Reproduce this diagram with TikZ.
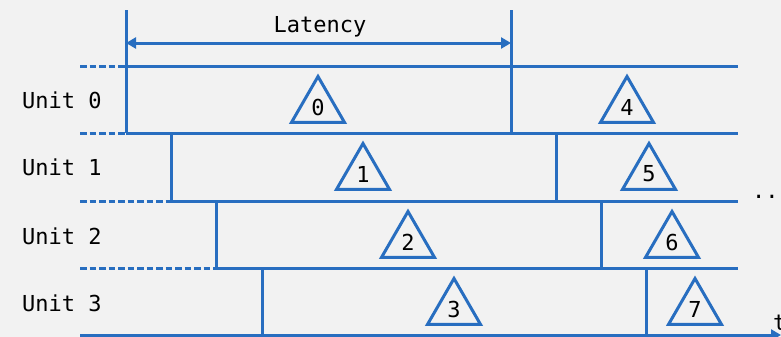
\documentclass[tikz,border=0pt]{standalone}
\usepackage{fontspec}
\setmonofont{DejaVu Sans Mono}
\usetikzlibrary{arrows.meta,shapes.geometric}
\definecolor{lineblue}{RGB}{40,110,192}
\definecolor{bggray}{RGB}{242,242,242}

\begin{document}
\begin{tikzpicture}[x=0.5pt,y=-0.5pt,
	every node/.style={font=\ttfamily\fontsize{11}{13}\selectfont},
	grid/.style={draw=lineblue,line width=1.5pt},
	dashgrid/.style={grid,dash pattern=on 3.25pt off 1.5pt},
	job/.style={draw=lineblue,line width=1.5pt,regular polygon,regular polygon sides=3,minimum size=30.5pt,inner sep=0pt}]
	\fill[bggray] (0,0) rectangle (781,337);
	\useasboundingbox (0,0) rectangle (781,337);
	% latency marks
	\coordinate (lat0) at (126,10);
	\coordinate (lat1) at (511,10);
	\draw[grid] (lat0) -- (126,133);
	\draw[grid] (lat1) -- (511,133);
	\draw[grid,{Triangle[length=5pt,width=5.5pt]}-{Triangle[length=5pt,width=5.5pt]}] (126,43) -- (511,43);
	\node (latency) at (320,27) {Latency};
	% row borders
	\draw[dashgrid] (80,66) -- (126,66);
	\draw[grid] (126,66) -- (738,66);
	\draw[dashgrid] (80,133) -- (126,133);
	\draw[grid] (126,133) -- (738,133);
	\draw[dashgrid] (80,201) -- (171,201);
	\draw[grid] (171,201) -- (738,201);
	\draw[dashgrid] (80,268) -- (216,268);
	\draw[grid] (216,268) -- (738,268);
	\draw[grid,-{Triangle[length=5pt,width=5.5pt]}] (80,335) -- (781,335);
	\node[anchor=west] (t) at (766,323) {t};
	\node[anchor=west] (dots) at (745,197) {...};
	% slots
	\draw[grid] (171,133) -- (171,201);
	\draw[grid] (556,133) -- (556,201);
	\draw[grid] (216,201) -- (216,268);
	\draw[grid] (601,201) -- (601,268);
	\draw[grid] (262,268) -- (262,335);
	\draw[grid] (646,268) -- (646,335);
	% units
	\node[anchor=west] (u0) at (15,100) {Unit 0};
	\node[anchor=west] (u1) at (15,167) {Unit 1};
	\node[anchor=west] (u2) at (15,236) {Unit 2};
	\node[anchor=west] (u3) at (15,303) {Unit 3};
	% jobs
	\node[job] (j0) at (318,107) {0};
	\node[job] (j1) at (363,174) {1};
	\node[job] (j2) at (408,242) {2};
	\node[job] (j3) at (454,309) {3};
	\node[job] (j4) at (627,107) {4};
	\node[job] (j5) at (649,174) {5};
	\node[job] (j6) at (672,242) {6};
	\node[job] (j7) at (695,309) {7};
\end{tikzpicture}
\end{document}
